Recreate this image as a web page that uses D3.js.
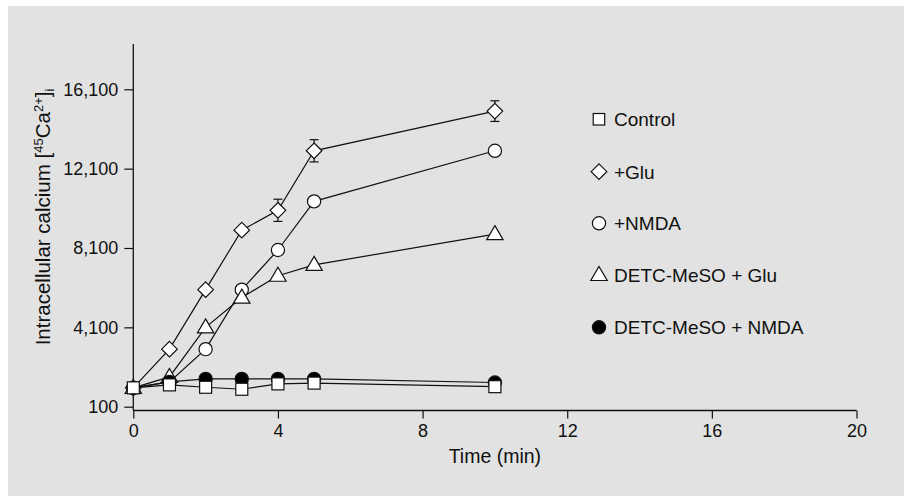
<!DOCTYPE html>
<html><head><meta charset="utf-8">
<script src="https://cdn.jsdelivr.net/npm/d3@7"></script>
<style>html,body{margin:0;padding:0;background:#fff;}svg{display:block;font-family:"Liberation Sans",Arial,sans-serif;}</style>
</head><body>
<svg id="c" width="915" height="496"></svg>
<script>
const times = [0, 1, 2, 3, 4, 5, 10];
const control = [1050, 1200, 1080, 980, 1250, 1290, 1110];
const glu = [1050, 3000, 6000, 9000, 10000, 13000, 15000];
const gluErr = [0, 0, 0, 0, 560, 560, 520];
const nmda = [1050, 1350, 3000, 6000, 8000, 10450, 13000];
const detcGlu = [1050, 1600, 4100, 5600, 6700, 7250, 8800];
const detcNmda = [1050, 1350, 1500, 1500, 1500, 1500, 1320];
const xTicks = [0, 4, 8, 12, 16, 20];
const yTicks = [100, 4100, 8100, 12100, 16100];
const legendLabels = ["Control", "+Glu", "+NMDA", "DETC-MeSO + Glu", "DETC-MeSO + NMDA"];

const svg = d3.select("#c");
svg.append("rect").attr("x", 8).attr("y", 6).attr("width", 896).attr("height", 490).attr("fill", "#e2e2e2");

const x = d3.scaleLinear().domain([0, 20]).range([133.3, 856.5]);
const y = d3.scaleLinear().domain([100, 16100]).range([406.7, 89.3]);
const axisY = 410.5;

const fs = 18;
// axes
const xa = svg.append("g").attr("transform", `translate(0,${axisY})`)
  .call(d3.axisBottom(x).tickValues(xTicks).tickSize(8).tickPadding(6).tickFormat(d3.format("d")));
const ya = svg.append("g").attr("transform", `translate(${x(0)},0)`)
  .call(d3.axisLeft(y).tickValues(yTicks).tickSize(9).tickPadding(6).tickFormat(d3.format(",")));
[xa, ya].forEach(g => {
  g.select(".domain").remove();
  g.selectAll("line").attr("stroke", "#111").attr("stroke-width", 1.2);
  g.selectAll("text").attr("font-size", fs).attr("fill", "#111").attr("font-family", "Liberation Sans, Arial, sans-serif");
});
svg.append("line").attr("x1", x(0)).attr("x2", x(20)).attr("y1", axisY).attr("y2", axisY).attr("stroke", "#111").attr("stroke-width", 1.3);
svg.append("line").attr("x1", x(0)).attr("x2", x(0)).attr("y1", 44).attr("y2", axisY).attr("stroke", "#111").attr("stroke-width", 1.3);

svg.append("text").attr("x", (x(0) + x(20)) / 2).attr("y", 463).attr("text-anchor", "middle")
  .attr("font-size", 19.5).attr("fill", "#111").text("Time (min)");

const yl = svg.append("text").attr("transform", "translate(50,217) rotate(-90)")
  .attr("text-anchor", "middle").attr("font-size", 20.5).attr("fill", "#111");
yl.append("tspan").text("Intracellular calcium [");
yl.append("tspan").attr("font-size", 13).attr("dy", -7.5).text("45");
yl.append("tspan").attr("dy", 7.5).text("Ca");
yl.append("tspan").attr("font-size", 13).attr("dy", -7.5).text("2+");
yl.append("tspan").attr("dy", 7.5).text("]");
yl.append("tspan").attr("font-size", 13).attr("dy", 4).text("i");

const line = d3.line().x((d, i) => x(times[i])).y(d => y(d));

function marker(g, type, cx, cy) {
  const st = { stroke: "#111", "stroke-width": 1.2, fill: "#fff" };
  let el;
  if (type === "square") el = g.append("rect").attr("x", cx - 6).attr("y", cy - 6).attr("width", 12).attr("height", 12);
  else if (type === "diamond") el = g.append("path").attr("d", `M${cx},${cy - 7.8}L${cx + 7.8},${cy}L${cx},${cy + 7.8}L${cx - 7.8},${cy}Z`);
  else if (type === "circle" || type === "filled") el = g.append("circle").attr("cx", cx).attr("cy", cy).attr("r", 6.6);
  else if (type === "triangle") el = g.append("path").attr("d", `M${cx},${cy - 8.5}L${cx + 8.2},${cy + 5.5}L${cx - 8.2},${cy + 5.5}Z`);
  for (const k in st) el.attr(k, st[k]);
  if (type === "filled") el.attr("fill", "#000");
  return el;
}

const series = [
  { vals: glu, type: "diamond", err: gluErr },
  { vals: nmda, type: "circle" },
  { vals: detcGlu, type: "triangle" },
  { vals: detcNmda, type: "filled" },
  { vals: control, type: "square" }
];
series.forEach(s => {
  svg.append("path").attr("d", line(s.vals)).attr("fill", "none").attr("stroke", "#111").attr("stroke-width", 1.2);
});
series.forEach(s => {
  if (!s.err) return;
  s.err.forEach((e, i) => {
    if (!e) return;
    const cx = x(times[i]);
    const g = svg.append("g").attr("stroke", "#111").attr("stroke-width", 1.2);
    g.append("line").attr("x1", cx).attr("x2", cx).attr("y1", y(s.vals[i] + e)).attr("y2", y(s.vals[i] - e));
    g.append("line").attr("x1", cx - 4.5).attr("x2", cx + 4.5).attr("y1", y(s.vals[i] + e)).attr("y2", y(s.vals[i] + e));
    g.append("line").attr("x1", cx - 4.5).attr("x2", cx + 4.5).attr("y1", y(s.vals[i] - e)).attr("y2", y(s.vals[i] - e));
  });
});
series.forEach(s => {
  const g = svg.append("g");
  s.vals.forEach((v, i) => marker(g, s.type, x(times[i]), y(v)));
});

const legTypes = ["square", "diamond", "circle", "triangle", "filled"];
const legY = [119.3, 171.7, 223.3, 275, 327.3];
legendLabels.forEach((lab, i) => {
  const g = svg.append("g");
  const t = legTypes[i];
  if (t === "square") marker(g, t, 599, legY[i]).attr("width", 11.5).attr("height", 11.5).attr("x", 593.2).attr("y", legY[i] - 5.8);
  else marker(g, t, 599, legY[i]);
  g.append("text").attr("x", 614).attr("y", legY[i] + 6.8).attr("font-size", 19).attr("fill", "#111").text(lab);
});
</script>
</body></html>
